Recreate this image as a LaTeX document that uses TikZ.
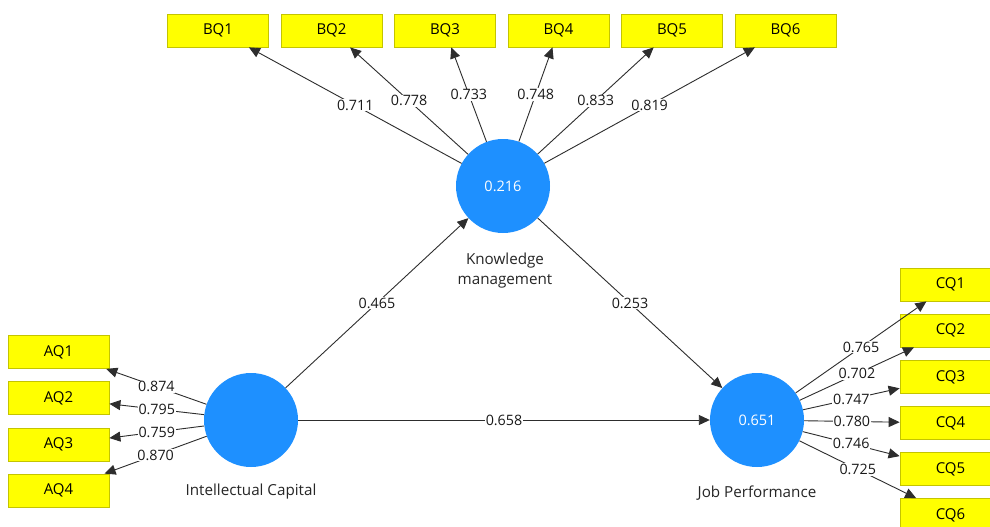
\documentclass[tikz,border=0pt]{standalone}
\usepackage{fontspec}
\setmainfont{Open Sans}
\usetikzlibrary{arrows.meta}
\definecolor{boxfill}{RGB}{255,255,0}
\definecolor{boxline}{RGB}{196,196,0}
\definecolor{latent}{RGB}{30,144,255}
\definecolor{wire}{RGB}{45,45,45}
\tikzset{
  indic/.style={draw=boxline, fill=boxfill, line width=0.8pt, minimum width=101pt, minimum height=33pt, inner sep=0pt, font=\fontsize{15}{17}\selectfont},
  lv/.style={circle, fill=latent, minimum size=94pt, inner sep=0pt, text=white, font=\fontsize{14.5}{17}\selectfont},
  lvname/.style={align=center, font=\fontsize{15.2}{20}\selectfont, text=black!85},
  link/.style={draw=wire, line width=0.9pt, -{Triangle[length=11pt,width=10pt]}},
  wt/.style={fill=white, inner sep=0.8pt, font=\fontsize{14.3}{16}\selectfont, text=black!90, midway}
}
\begin{document}
\begin{tikzpicture}[x=1pt,y=-1pt]
\useasboundingbox (0,0) rectangle (990,527);
\clip (0,0) rectangle (990,527);
\fill[white] (0,0) rectangle (990,527);
% latent variables
\node[lv] (km) at (503,186) {0.216};
\node[lv] (ic) at (251,420) {};
\node[lv] (jp) at (757,420) {0.651};
\node[lvname] (kmname) at (505,271) {Knowledge\\management};
\node[lvname] (icname) at (251,492) {Intellectual Capital};
\node[lvname] (jpname) at (757,493) {Job Performance};
% indicators
\node[indic] (bq1) at (218,30.5) {BQ1};
\node[indic] (bq2) at (331.5,30.5) {BQ2};
\node[indic] (bq3) at (445,30.5) {BQ3};
\node[indic] (bq4) at (558.5,30.5) {BQ4};
\node[indic] (bq5) at (672,30.5) {BQ5};
\node[indic] (bq6) at (785.5,30.5) {BQ6};
\node[indic] (aq1) at (58.5,352) {AQ1};
\node[indic] (aq2) at (58.5,398) {AQ2};
\node[indic] (aq3) at (58.5,444.5) {AQ3};
\node[indic] (aq4) at (58.5,490.5) {AQ4};
\node[indic] (cq1) at (950.5,284.5) {CQ1};
\node[indic] (cq2) at (950.5,330.5) {CQ2};
\node[indic] (cq3) at (950.5,377) {CQ3};
\node[indic] (cq4) at (950.5,423) {CQ4};
\node[indic] (cq5) at (950.5,469) {CQ5};
\node[indic] (cq6) at (950.5,515) {CQ6};
% structural paths
\draw[link] (ic) -- (km) node[wt] {0.465};
\draw[link] (km) -- (jp) node[wt] {0.253};
\draw[link] (ic) -- (jp) node[wt] {0.658};
% outer loadings
\draw[link] (km) -- (bq1) node[wt] {0.711};
\draw[link] (km) -- (bq2) node[wt] {0.778};
\draw[link] (km) -- (bq3) node[wt] {0.733};
\draw[link] (km) -- (bq4) node[wt] {0.748};
\draw[link] (km) -- (bq5) node[wt] {0.833};
\draw[link] (km) -- (bq6) node[wt] {0.819};
\draw[link] (ic) -- (aq1) node[wt] {0.874};
\draw[link] (ic) -- (aq2) node[wt] {0.795};
\draw[link] (ic) -- (aq3) node[wt] {0.759};
\draw[link] (ic) -- (aq4) node[wt] {0.870};
\draw[link] (jp) -- (cq1) node[wt] {0.765};
\draw[link] (jp) -- (cq2) node[wt] {0.702};
\draw[link] (jp) -- (cq3) node[wt] {0.747};
\draw[link] (jp) -- (cq4) node[wt] {0.780};
\draw[link] (jp) -- (cq5) node[wt] {0.746};
\draw[link] (jp) -- (cq6) node[wt] {0.725};
\end{tikzpicture}
\end{document}
